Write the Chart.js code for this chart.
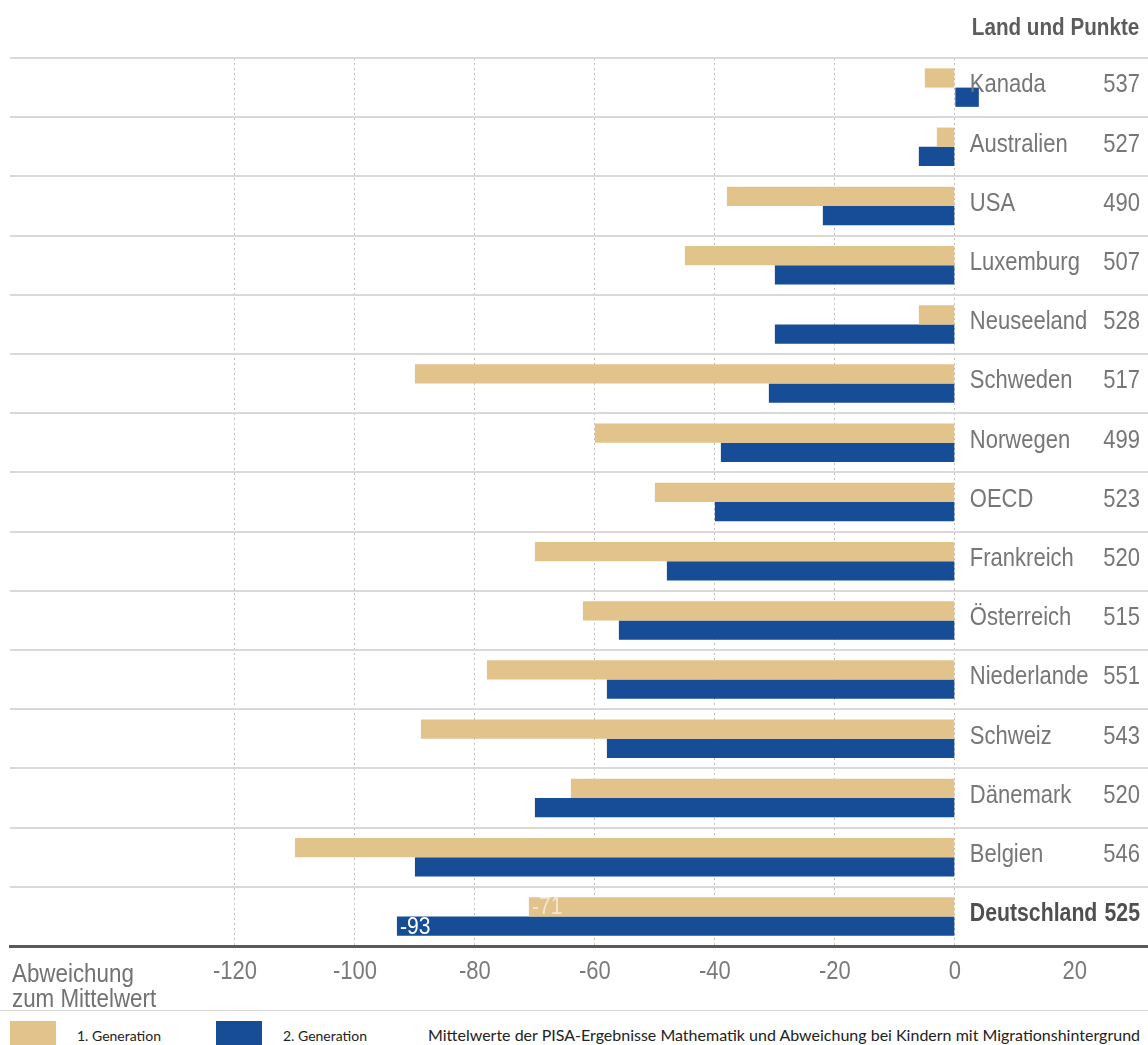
<!DOCTYPE html>
<html lang="de">
<head>
<meta charset="utf-8">
<title>PISA Mathematik – Abweichung bei Kindern mit Migrationshintergrund</title>
<script src="https://cdn.jsdelivr.net/npm/chart.js@4.4.0/dist/chart.umd.min.js"></script>
<style>
  body { margin: 0; background: #fff; }
  #wrap { position: relative; width: 1148px; height: 1010px; }
  #legend {
    position: relative; width: 1148px; height: 34px;
    border-top: 1px solid #d6d6d6; overflow: hidden;
    font-family: "Lato", "Liberation Sans", sans-serif; font-size: 16px; color: #222;
  }
  #legend .box { position: absolute; top: 10px; width: 46px; height: 30px; }
  #legend .txt { position: absolute; top: 15px; line-height: 18px; white-space: nowrap; }
  #legend .small { font-size: 14px; top: 16px; }
</style>
</head>
<body>
<div id="wrap"><canvas id="chart" width="1148" height="1010"></canvas></div>
<div id="legend"></div>

<script>
// PISA Mathematik: Punkte je Land und Abweichung der 1./2. Generation
const countries = ['Kanada', 'Australien', 'USA', 'Luxemburg', 'Neuseeland', 'Schweden', 'Norwegen', 'OECD',
  'Frankreich', 'Österreich', 'Niederlande', 'Schweiz', 'Dänemark', 'Belgien', 'Deutschland'];
const points = [537, 527, 490, 507, 528, 517, 499, 523, 520, 515, 551, 543, 520, 546, 525];
const firstGen = [-5, -3, -38, -45, -6, -90, -60, -50, -70, -62, -78, -89, -64, -110, -71];
const secondGen = [4, -6, -22, -30, -30, -31, -39, -40, -48, -56, -58, -58, -70, -90, -93];
const tickValues = [-120, -100, -80, -60, -40, -20, 0, 20];
const seriesNames = ['1. Generation', '2. Generation'];
const seriesColors = ['#e2c38b', '#164d96'];
const caption = 'Mittelwerte der PISA-Ergebnisse Mathematik und Abweichung bei Kindern mit Migrationshintergrund';

// no condensed face available, so squeeze Liberation Sans horizontally
function narrowText(ctx, text, x, y, size, opts = {}) {
    ctx.save();
    ctx.font = (opts.bold ? 'bold ' : '') + size + 'px "Liberation Sans", Arial, sans-serif';
    ctx.fillStyle = opts.color || '#767676';
    ctx.textAlign = opts.align || 'left';
    ctx.textBaseline = opts.baseline || 'alphabetic';
    ctx.translate(x, y);
    ctx.scale(opts.squeeze || 0.88, 1);
    ctx.fillText(String(text), 0, 0);
    ctx.restore();
}

// country names, points, header, tick labels, axis caption, value labels on the last row
const rowLabels = {
    id: 'rowLabels',
    afterDatasetsDraw(chart) {
        const {ctx, chartArea, scales: {x, y}} = chart;
        const nameX = x.getPixelForValue(0) + 15;
        const numX = chartArea.right - 8;
        const last = countries.length - 1;

        countries.forEach((name, i) => {
            const yy = y.getPixelForValue(i) - 2;
            const bold = i === last;
            const o = { bold: bold, color: bold ? '#4f4f4f' : '#767676', baseline: 'middle',
                        squeeze: bold ? 0.85 : 0.88 };
            narrowText(ctx, name, nameX, yy, 25, o);
            narrowText(ctx, points[i], numX, yy, 25, Object.assign({}, o, { align: 'right' }));
        });

        narrowText(ctx, 'Land und Punkte', nameX + 2, chartArea.top - 23, 24,
            { bold: true, color: '#5c5c5c', squeeze: 0.86 });

        tickValues.forEach(v => {
            narrowText(ctx, v, x.getPixelForValue(v), chartArea.bottom + 33, 25,
                { align: 'center', color: '#7a7a7a' });
        });

        narrowText(ctx, 'Abweichung', 12, chartArea.bottom + 36, 26, { color: '#727272', squeeze: 0.86 });
        narrowText(ctx, 'zum Mittelwert', 12, chartArea.bottom + 61, 26, { color: '#727272', squeeze: 0.86 });

        chart.data.datasets.forEach((ds, di) => {
            const bar = chart.getDatasetMeta(di).data[last];
            const left = Math.min(bar.x, bar.base);
            narrowText(ctx, ds.data[last], left + 3, bar.y + 1, 24, {
                baseline: 'middle', color: di === 0 ? 'rgba(255,255,255,0.6)' : '#ffffff'
            });
        });
    }
};

const ctx = document.getElementById('chart');
const chart = new Chart(ctx, {
    type: 'bar',
    data: {
        labels: countries,
        datasets: [
            { label: seriesNames[0], data: firstGen, backgroundColor: seriesColors[0],
              categoryPercentage: 0.65, barPercentage: 1, borderWidth: 0 },
            { label: seriesNames[1], data: secondGen, backgroundColor: seriesColors[1],
              categoryPercentage: 0.65, barPercentage: 1, borderWidth: 0 }
        ]
    },
    options: {
        indexAxis: 'y',
        responsive: false,
        animation: false,
        layout: { padding: { top: 58, left: 10, right: 0, bottom: 64 } },
        plugins: {
            legend: { display: false },
            tooltip: { enabled: false }
        },
        scales: {
            x: {
                min: -157.5,
                max: 32.2,
                afterBuildTicks: scale => { scale.ticks = tickValues.map(v => ({ value: v })); },
                grid: {
                    // dotted lines, none at +20
                    color: c => (c.tick && c.tick.value > 0) ? 'rgba(0,0,0,0)' : '#bdbdbd',
                    lineWidth: 1,
                    drawTicks: false
                },
                border: { display: true, color: '#5a5a5a', width: 3, dash: [2, 3] },
                ticks: { display: false }
            },
            y: {
                grid: { color: '#d9d9d9', lineWidth: 2, drawTicks: false, offset: true },
                border: { display: false },
                ticks: { display: false },
                afterFit: scale => { scale.width = 0; }
            }
        }
    },
    plugins: [rowLabels]
});

// legend row under the chart
const legend = document.getElementById('legend');
const boxLeft = [10, 216];
seriesNames.forEach((name, i) => {
    const box = document.createElement('div');
    box.className = 'box';
    box.style.left = boxLeft[i] + 'px';
    box.style.background = seriesColors[i];
    legend.appendChild(box);
    const t = document.createElement('div');
    t.className = 'txt small';
    t.style.left = (boxLeft[i] + 67) + 'px';
    t.textContent = name;
    legend.appendChild(t);
});
const cap = document.createElement('div');
cap.className = 'txt';
cap.style.left = '428px';
cap.textContent = caption;
legend.appendChild(cap);
</script>
</body>
</html>
